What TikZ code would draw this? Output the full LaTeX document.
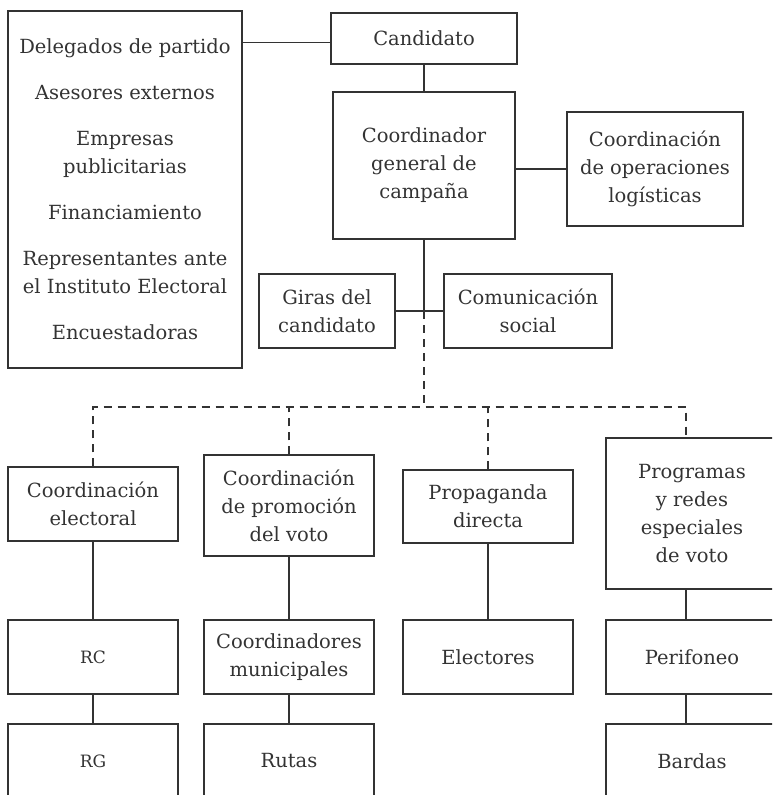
\documentclass[tikz,border=0pt]{standalone}
\usepackage{fontspec}
\setmainfont{DejaVu Serif}
\usepackage{tikz}
\definecolor{ink}{HTML}{333333}
\tikzset{box/.style={draw=ink, line width=1.1pt, text=ink, align=center, inner sep=0pt, font=\fontsize{19.5}{28}\selectfont},
	link/.style={draw=ink, line width=1.1pt},
	dashlink/.style={link, dash pattern=on 8pt off 6pt}}

\begin{document}
\begin{tikzpicture}[auto, node distance=104pt, x=1pt, y=-1pt]
		\useasboundingbox (0,0) rectangle (772,795);
		\clip (0,0) rectangle (772,795);
		% upper part
		\node(listado)[box, minimum width=234pt, minimum height=357pt] at (125,189.5){Delegados de partido\\[18pt]Asesores externos\\[18pt]Empresas\\publicitarias\\[18pt]Financiamiento\\[18pt]Representantes ante\\el Instituto Electoral\\[18pt]Encuestadoras};
		\node(cand)[box, minimum width=186pt, minimum height=51pt] at (424,38.5){Candidato};
		\node(coord)[box, minimum width=182pt, minimum height=147pt] at (424,165.5){Coordinador\\general de\\campaña};
		\node(ops)[box, minimum width=176pt, minimum height=114pt] at (655,169){Coordinación\\de operaciones\\logísticas};
		\node(giras)[box, minimum width=136pt, minimum height=74pt] at (327,311){Giras del\\candidato};
		\node(comsoc)[box, minimum width=168pt, minimum height=74pt] at (528,311){Comunicación\\social};
		% coordinations
		\node(elec)[box, minimum width=170pt, minimum height=74pt] at (93,504){Coordinación\\electoral};
		\node(prom)[box, minimum width=170pt, minimum height=101pt] at (289,505.5){Coordinación\\de promoción\\del voto};
		\node(prop)[box, minimum width=170pt, minimum height=73pt] at (488,506.5){Propaganda\\directa};
		\node(prog)[box, minimum width=172pt, minimum height=151pt] at (692,513.5){Programas\\y redes\\especiales\\de voto};
		% lower rows
		\node(rc)[box, minimum width=170pt, minimum height=74pt, font=\fontsize{17}{20}\selectfont] at (93,657){RC};
		\node(muni)[box, minimum width=170pt, minimum height=74pt] at (289,657){Coordinadores\\municipales};
		\node(elect)[box, minimum width=170pt, minimum height=74pt] at (488,657){Electores};
		\node(perif)[box, minimum width=172pt, minimum height=74pt] at (692,657){Perifoneo};
		\node(rg)[box, minimum width=170pt, minimum height=74pt, font=\fontsize{17}{20}\selectfont, below of=rc]{RG};
		\node(rutas)[box, minimum width=170pt, minimum height=74pt, below of=muni]{Rutas};
		\node(bardas)[box, minimum width=172pt, minimum height=74pt, below of=perif]{Bardas};
		\coordinate(hub) at (coord.south |- giras.east);
		\coordinate(bus) at (424,407);
		\draw[link]([yshift=-4pt]listado.east |- cand.west) -- ([yshift=-4pt]cand.west);
		\draw[link](cand) -- (coord);
		\draw[link](coord.east |- ops.west) -- (ops.west);
		\draw[link](coord.south) -- (hub);
		\draw[link](giras.east) -- (comsoc.west);
		\draw[dashlink](hub) -- (bus);
		\draw[dashlink](elec.north) |- ([xshift=-6pt]bus -| prog.north) -- ([xshift=-6pt]prog.north);
		\draw[dashlink](prom.north) -- (prom.north |- bus);
		\draw[dashlink](prop.north) -- (prop.north |- bus);
		\draw[link](elec) -- (rc);
		\draw[link](rc) -- (rg);
		\draw[link](prom) -- (muni);
		\draw[link](muni) -- (rutas);
		\draw[link](prop) -- (elect);
		\draw[link]([xshift=-6pt]prog.south) -- ([xshift=-6pt]perif.north);
		\draw[link]([xshift=-6pt]perif.south) -- ([xshift=-6pt]bardas.north);
	\end{tikzpicture}
\end{document}
